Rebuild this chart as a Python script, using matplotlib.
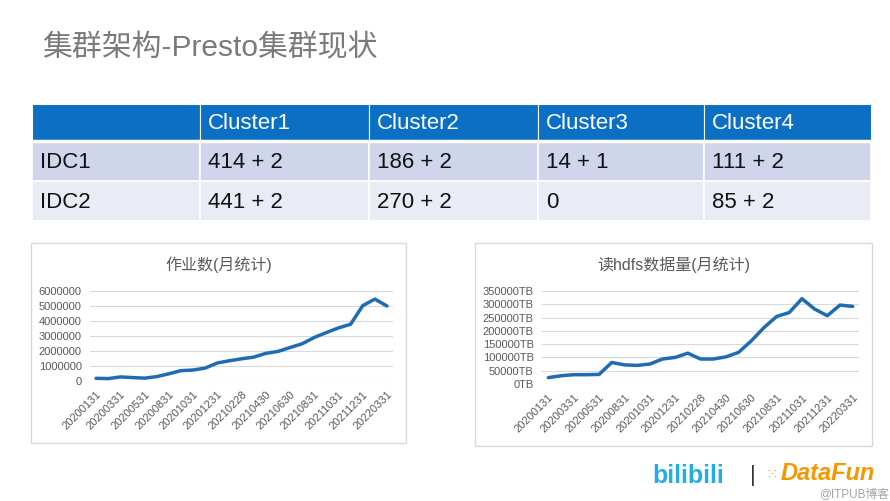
import matplotlib
matplotlib.use("Agg")
import matplotlib.pyplot as plt
from matplotlib.patches import Rectangle
from matplotlib.ticker import FuncFormatter

plt.rcParams["font.family"] = ["Liberation Sans", "Noto Sans CJK SC", "DejaVu Sans"]

W, H = 890, 501

# ---- data ----
TITLE = "集群架构-Presto集群现状"
COLUMNS = ["", "Cluster1", "Cluster2", "Cluster3", "Cluster4"]
ROW_NAMES = ["IDC1", "IDC2"]
IDC1 = ["414 + 2", "186 + 2", "14 + 1", "111 + 2"]
IDC2 = ["441 + 2", "270 + 2", "0", "85 + 2"]

DATES = [
    "20200131", "20200229", "20200331", "20200430", "20200531", "20200731",
    "20200831", "20200930", "20201031", "20201130", "20201231", "20210131",
    "20210228", "20210331", "20210430", "20210531", "20210630", "20210731",
    "20210831", "20210930", "20211031", "20211130", "20211231", "20220228",
    "20220331",
]
JOBS = [
    180000, 160000, 270000, 230000, 190000, 290000, 480000, 690000, 730000,
    860000, 1200000, 1350000, 1480000, 1590000, 1840000, 1970000, 2230000,
    2480000, 2900000, 3230000, 3540000, 3780000, 5020000, 5460000, 5000000,
]
HDFS_TB = [
    24000, 31000, 35000, 35000, 36000, 81000, 72000, 70000, 75000, 94000,
    100000, 116000, 94000, 94000, 102000, 119000, 162000, 212000, 254000,
    269000, 321000, 282000, 257000, 297000, 292000,
]

HEADER_BLUE = "#0B6FC4"
ROW1_BG = "#CFD5EA"
ROW2_BG = "#E9EBF5"
LINE_BLUE = "#1F6CB3"
GREY_TEXT = "#595959"


def px_axes(fig, x0, y0, x1, y1):
    """Axes placed by pixel box (top-left origin)."""
    return fig.add_axes([x0 / W, 1 - y1 / H, (x1 - x0) / W, (y1 - y0) / H])


def line_chart(fig, box, plot, values, title, fmt, ymax, step):
    bx0, by0, bx1, by1 = box
    ov.add_patch(Rectangle((bx0, by0), bx1 - bx0, by1 - by0, fill=False,
                           edgecolor="#D9D9D9", linewidth=1.0, zorder=1))
    ov.text((bx0 + bx1) / 2, by0 + 22, title, ha="center", va="center",
            fontsize=11.5, color=GREY_TEXT)

    ax = px_axes(fig, *plot)
    x = list(range(len(values)))
    ax.plot(x, values, color=LINE_BLUE, linewidth=2.5, solid_capstyle="round",
            solid_joinstyle="round", zorder=3)
    ax.set_xlim(-0.5, len(values) - 0.5)
    ax.set_ylim(0, ymax)
    ax.set_yticks(range(0, ymax + 1, step))
    ax.yaxis.set_major_formatter(FuncFormatter(fmt))
    ax.set_xticks(x[::2])
    ax.set_xticklabels(DATES[::2], rotation=45, ha="right", rotation_mode="anchor")
    ax.tick_params(axis="both", length=0, labelsize=8, labelcolor=GREY_TEXT)
    ax.tick_params(axis="y", pad=6)
    ax.tick_params(axis="x", pad=6)
    ax.grid(axis="y", color="#D9D9D9", linewidth=0.8)
    ax.set_axisbelow(True)
    for s in ax.spines.values():
        s.set_visible(False)
    ax.patch.set_alpha(0)
    return ax


fig = plt.figure(figsize=(W / 100, H / 100), dpi=100)
fig.patch.set_facecolor("white")

# overlay axes in pixel coordinates for the slide decorations
ov = fig.add_axes([0, 0, 1, 1])
ov.set_xlim(0, W)
ov.set_ylim(H, 0)
ov.axis("off")

ov.text(42, 48, TITLE, ha="left", va="center", fontsize=21.5, color="#7A7A7A")

# ---- table ----
col_x = [32, 200, 369, 538, 704, 871]
row_y = [104, 141, 181, 221]
rows = [COLUMNS, [ROW_NAMES[0]] + IDC1, [ROW_NAMES[1]] + IDC2]
fills = [HEADER_BLUE, ROW1_BG, ROW2_BG]
for r, cells in enumerate(rows):
    for c, txt in enumerate(cells):
        x0, x1 = col_x[c], col_x[c + 1]
        y0, y1 = row_y[r], row_y[r + 1]
        ov.add_patch(Rectangle((x0, y0), x1 - x0, y1 - y0, facecolor=fills[r],
                               edgecolor="white", linewidth=1.2 if r else 0.8))
        ov.text(x0 + 8, (y0 + y1) / 2 + 1, txt, ha="left", va="center",
                fontsize=16, color="white" if r == 0 else "#111111")
# thicker white rule under the header
ov.plot([col_x[0], col_x[-1]], [row_y[1], row_y[1]], color="white", linewidth=2.5)

# ---- charts ----
line_chart(fig, (31, 243, 406, 443), (90, 291, 393, 381), JOBS,
           "作业数(月统计)", lambda v, _: f"{int(v)}", 6000000, 1000000)
line_chart(fig, (475, 243, 872, 446), (542, 291, 859, 384), HDFS_TB,
           "读hdfs数据量(月统计)", lambda v, _: f"{int(v)}TB", 350000, 50000)

# ---- logos / footer ----
ov.text(688, 476, "bilibili", ha="center", va="center", fontsize=18,
        fontweight="bold", color="#23ADE5")
ov.text(753, 476, "|", ha="center", va="center", fontsize=16, color="#333333")
ov.text(772, 474, "⁙", ha="center", va="center", fontsize=11, color="#F5B800",
        family=["DejaVu Sans"])
ov.text(781, 473, "DataFun", ha="left", va="center", fontsize=17,
        fontstyle="italic", fontweight="bold", color="#F39800")
ov.text(889, 494, "@ITPUB博客", ha="right", va="center", fontsize=8.5,
        color="#9A9A9A", alpha=0.9)

fig.savefig("out.png", dpi=100, facecolor="white")
